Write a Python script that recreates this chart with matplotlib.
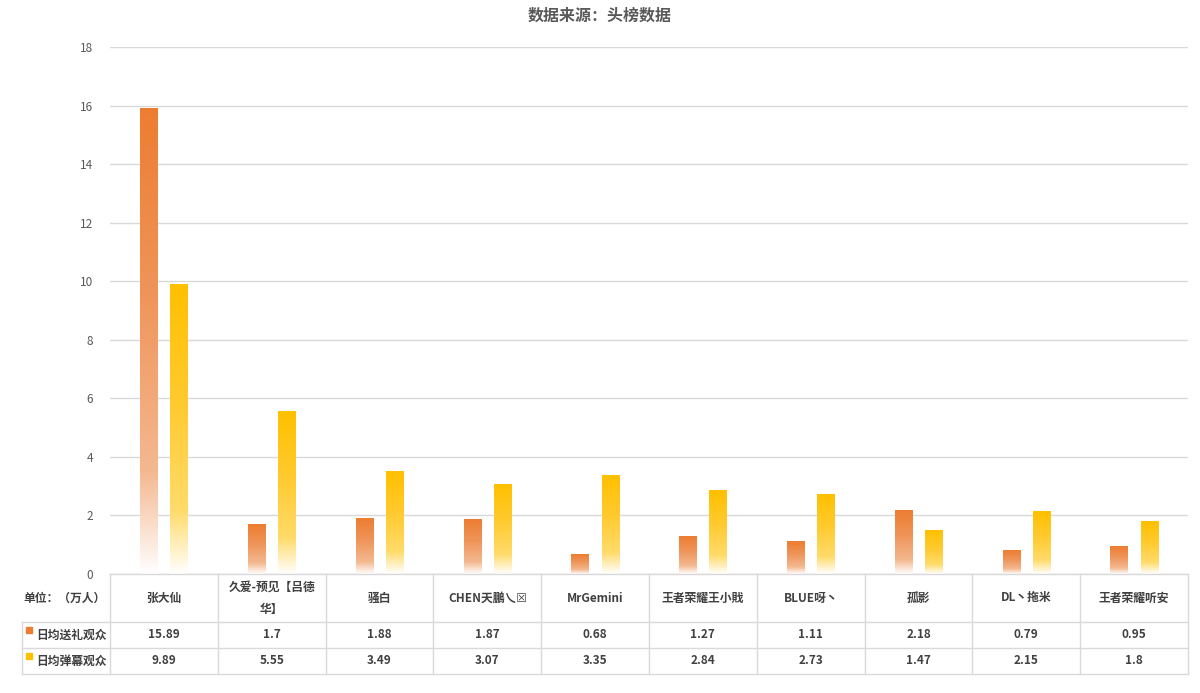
import matplotlib
matplotlib.use("Agg")
import matplotlib.pyplot as plt
import matplotlib.transforms as mtransforms
from matplotlib.colors import LinearSegmentedColormap
from matplotlib.lines import Line2D
import numpy as np

plt.rcParams['font.family'] = ['Noto Sans CJK SC', 'DejaVu Sans']

# data
anchors = ['张大仙', '久爱-预见【吕德\n华】', '骚白', 'CHEN天鵬乀☒', 'MrGemini',
           '王者荣耀王小戝', 'BLUE呀丶', '孤影', 'DL丶拖米', '王者荣耀听安']
gift_viewers = [15.89, 1.7, 1.88, 1.87, 0.68, 1.27, 1.11, 2.18, 0.79, 0.95]
danmu_viewers = [9.89, 5.55, 3.49, 3.07, 3.35, 2.84, 2.73, 1.47, 2.15, 1.8]
gift_labels = ['15.89', '1.7', '1.88', '1.87', '0.68', '1.27', '1.11', '2.18', '0.79', '0.95']
danmu_labels = ['9.89', '5.55', '3.49', '3.07', '3.35', '2.84', '2.73', '1.47', '2.15', '1.8']
series_names = ['日均送礼观众', '日均弹幕观众']
unit_label = '单位：（万人）'
title = '数据来源：头榜数据'

W, H = 1200, 693
fig = plt.figure(figsize=(12, 6.93), dpi=100)
ax = fig.add_axes([110 / W, 1 - 574 / H, (1188 - 110) / W, (574 - 47) / H])

orange_cmap = LinearSegmentedColormap.from_list(
    'og', [(0.0, '#FFFFFF'), (0.22, '#F4B890'), (0.6, '#EF955A'), (1.0, '#ED7D31')])
yellow_cmap = LinearSegmentedColormap.from_list(
    'yl', [(0.0, '#FFFFFF'), (0.22, '#FFDB6A'), (0.6, '#FFCA2E'), (1.0, '#FFC000')])

x = np.arange(len(anchors))
bw = 0.16
b1 = ax.bar(x - 0.14, gift_viewers, bw, color='none', zorder=3)
b2 = ax.bar(x + 0.14, danmu_viewers, bw, color='none', zorder=3)

# gradient fill for each bar
grad = np.linspace(0, 1, 256).reshape(-1, 1)
for bars, cmap in [(b1, orange_cmap), (b2, yellow_cmap)]:
    for p in bars:
        x0, y0 = p.get_x(), p.get_y()
        ax.imshow(grad, extent=[x0, x0 + p.get_width(), y0, y0 + p.get_height()],
                  origin='lower', aspect='auto', cmap=cmap, zorder=3, interpolation='bilinear')

ax.set_xlim(-0.5, len(anchors) - 0.5)
ax.set_ylim(0, 18)
ax.set_yticks(range(0, 19, 2))
ax.set_xticks([])
ax.tick_params(axis='y', length=0, pad=12, labelsize=8.5, labelcolor='#595959')
ax.grid(axis='y', color='#d9d9d9', linewidth=1)
ax.set_axisbelow(True)
for s in ax.spines.values():
    s.set_visible(False)

fig.text(0.5, 1 - 16 / H, title, ha='center', va='center', fontsize=11.5,
         fontweight='bold', color='#595959')

# data table under the plot
tr = mtransforms.blended_transform_factory(ax.transData, fig.transFigure)
lc = '#d9d9d9'
def fy(py):
    return 1 - py / H

y_top, y_r1, y_r2, y_bot = 574, 622, 648, 674
for xb in np.arange(-0.5, len(anchors), 1.0):
    fig.add_artist(Line2D([xb, xb], [fy(y_top), fy(y_bot)], transform=tr, color=lc, lw=1))
fig.add_artist(Line2D([-0.5, len(anchors) - 0.5], [fy(y_top)] * 2, transform=tr, color=lc, lw=1))
for yy in [y_r1, y_r2, y_bot]:
    fig.add_artist(Line2D([22 / W, 1188 / W], [fy(yy)] * 2, transform=fig.transFigure, color=lc, lw=1))
fig.add_artist(Line2D([22 / W, 22 / W], [fy(y_r1), fy(y_bot)], transform=fig.transFigure, color=lc, lw=1))

tc = '#404040'
for i, name in enumerate(anchors):
    fig.text(i, fy(598), name, transform=tr, ha='center', va='center', fontsize=8.5,
             fontweight='bold', color=tc, linespacing=1.9)
    fig.text(i, fy(635), gift_labels[i], transform=tr, ha='center', va='center',
             fontsize=8.5, fontweight='bold', color=tc)
    fig.text(i, fy(661), danmu_labels[i], transform=tr, ha='center', va='center',
             fontsize=8.5, fontweight='bold', color=tc)

fig.text(23 / W, fy(598), unit_label, ha='left', va='center', fontsize=8.5,
         fontweight='bold', color=tc)
for yy, name, col in [(635, series_names[0], '#ED7D31'), (661, series_names[1], '#FFC000')]:
    fig.patches.append(plt.Rectangle((26 / W, fy(yy - 2)), 6 / W, 6 / H, transform=fig.transFigure,
                                     color=col, figure=fig))
    fig.text(36 / W, fy(yy), name, ha='left', va='center', fontsize=8.5,
             fontweight='bold', color=tc)

fig.savefig('out.png', dpi=100, facecolor='white')
